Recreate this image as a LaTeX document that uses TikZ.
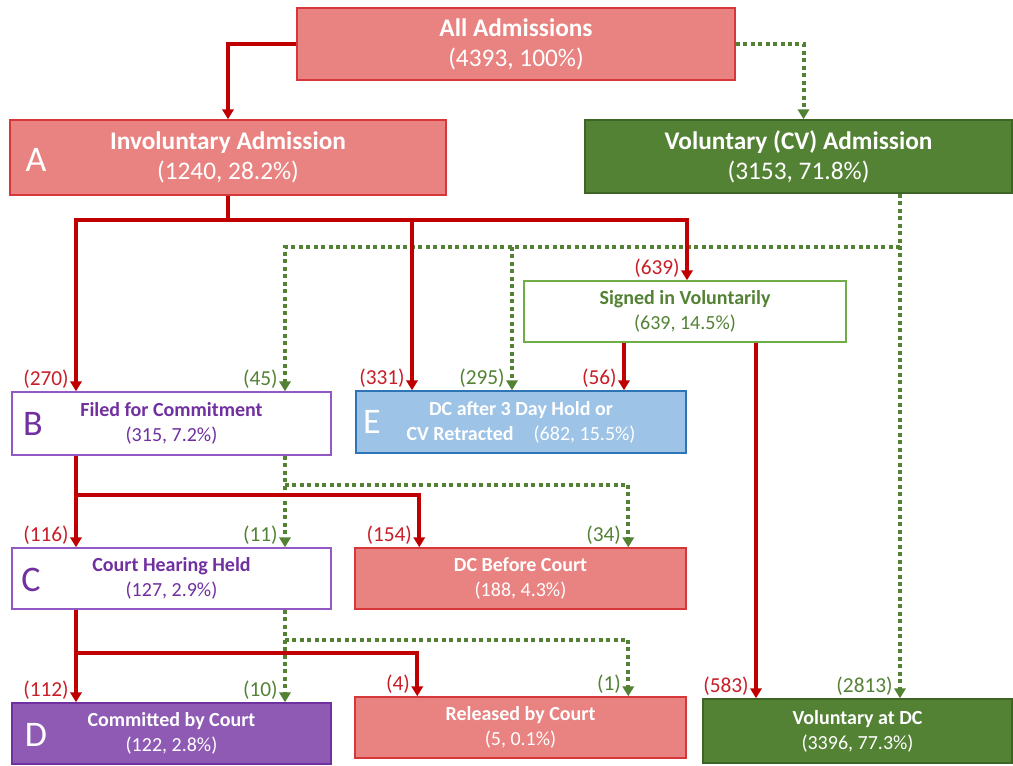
\documentclass[tikz,border=0pt]{standalone}
\usepackage{fontspec}
\setmainfont{Carlito}
\usetikzlibrary{arrows.meta,calc}

\definecolor{salfill}{RGB}{232,131,129}
\definecolor{saldraw}{RGB}{214,56,58}
\definecolor{redln}{RGB}{192,0,0}
\definecolor{redtxt}{RGB}{200,30,40}
\definecolor{grnfill}{RGB}{84,130,53}
\definecolor{grndraw}{RGB}{62,100,38}
\definecolor{grnln}{RGB}{84,130,53}
\definecolor{grnlite}{RGB}{112,173,71}
\definecolor{purtxt}{RGB}{112,48,160}
\definecolor{purdraw}{RGB}{146,88,196}
\definecolor{purfill}{RGB}{142,90,180}
\definecolor{bluefill}{RGB}{157,195,230}
\definecolor{bluedraw}{RGB}{46,117,182}

\newcommand\fntbig{\fontsize{19}{22.5}\selectfont}
\newcommand\fntsmall{\fontsize{15}{18.75}\selectfont}
\newcommand\fntlab{\fontsize{16}{16}\selectfont}
\newcommand\fntltr{\fontsize{27}{27}\selectfont}

\tikzset{
	box/.style={draw, line width=1.1pt, inner sep=0pt, align=center},
	salbox/.style={box, fill=salfill, draw=saldraw, text=white},
	grnbox/.style={box, fill=grnfill, draw=grndraw, text=white},
	redarr/.style={draw=redln, line width=3pt, -{Triangle[length=7.5pt,width=8.5pt]}},
	grnarr/.style={draw=grnln, line width=3pt, dash pattern=on 3pt off 2.6pt, -{Triangle[length=7.5pt,width=8.5pt]}},
	redlab/.style={anchor=base east, inner sep=0pt, xshift=-4pt, yshift=4.5pt, text=redtxt, font=\fntlab},
	grnlab/.style={redlab, text=grnln},
	bigltr/.style={inner sep=0pt, font=\fntltr}
}

\begin{document}
\begin{tikzpicture}[x=0.75pt,y=-0.75pt]
	\useasboundingbox (0,0) rectangle (1013,765);

	\node[salbox, minimum width=328.5pt, minimum height=54pt, font=\fntbig] (all) at (516,44) {\textbf{All Admissions}\\(4393, 100\%)};
	\node[salbox, minimum width=327pt, minimum height=56.25pt, font=\fntbig] (inv) at (228,157.5) {\textbf{Involuntary Admission}\\(1240, 28.2\%)};
	\node[grnbox, minimum width=320.25pt, minimum height=54.75pt, font=\fntbig] (vol) at (798.5,156.5) {\textbf{Voluntary (CV) Admission}\\(3153, 71.8\%)};
	\node[box, draw=grnlite, fill=white, text=grnfill, minimum width=241.5pt, minimum height=45.75pt, font=\fntsmall] (sgn) at (685,311.5) {\textbf{Signed in Voluntarily}\\(639, 14.5\%)};
	\node[box, draw=purdraw, fill=white, text=purtxt, minimum width=239.25pt, minimum height=47.25pt, font=\fntsmall] (fil) at (171.5,423.5) {\textbf{Filed for Commitment}\\(315, 7.2\%)};
	\node[box, draw=bluedraw, fill=bluefill, text=white, minimum width=247.5pt, minimum height=46.5pt, font=\fntsmall] (dch) at (521,422) {\textbf{DC after 3 Day Hold or}\\\textbf{CV Retracted}\quad(682, 15.5\%)};
	\node[box, draw=purdraw, fill=white, text=purtxt, minimum width=239.25pt, minimum height=45.75pt, font=\fntsmall] (crt) at (171.5,578.5) {\textbf{Court Hearing Held}\\(127, 2.9\%)};
	\node[salbox, minimum width=248.25pt, minimum height=45.75pt, font=\fntsmall] (dcb) at (520.5,578.5) {\textbf{DC Before Court}\\(188, 4.3\%)};
	\node[box, draw=purtxt, fill=purfill, text=white, minimum width=239.25pt, minimum height=45.75pt, font=\fntsmall] (com) at (171.5,733.5) {\textbf{Committed by Court}\\(122, 2.8\%)};
	\node[salbox, minimum width=248.25pt, minimum height=45.75pt, font=\fntsmall] (rel) at (520.5,727.5) {\textbf{Released by Court}\\(5, 0.1\%)};
	\node[grnbox, minimum width=231.75pt, minimum height=48pt, font=\fntsmall] (vdc) at (857.5,731) {\textbf{Voluntary at DC}\\(3396, 77.3\%)};

	\node[bigltr, text=white] (ltrA) at (36,160) {A};
	\node[bigltr, text=purtxt] (ltrB) at (33,424) {B};
	\node[bigltr, text=purtxt] (ltrC) at (31,580) {C};
	\node[bigltr, text=white] (ltrD) at (36,735) {D};
	\node[bigltr, text=white] (ltrE) at (372,422) {E};

	\coordinate (rL) at (76,220);
	\coordinate (rM) at (412,220);
	\coordinate (rR) at (687,220);
	\coordinate (gL) at (285,247);
	\coordinate (gM) at (512,247);
	\coordinate (gR) at (900,247);

	\draw[redarr] (all.west) -| (inv.north);
	\draw[grnarr] (all.east) -| ($(vol.north)+(5,0)$);

	\draw[grnarr] (gR|-vol.south) -- (gR|-vdc.north) node[grnlab] (n2813) {(2813)};
	\draw[grnarr] (gR) -| (gL|-fil.north) node[grnlab] (n45) {(45)};
	\draw[grnarr] (gM) -- (gM|-dch.north) node[grnlab] (n295) {(295)};

	\draw[redarr] (inv.south) |- (rL) -- (rL|-fil.north) node[redlab] (n270) {(270)};
	\draw[redarr] (inv.south|-rL) -| (rR|-sgn.north) node[redlab] (n639) {(639)};
	\draw[redarr] (rM) -- (rM|-dch.north) node[redlab] (n331) {(331)};

	\draw[redarr] ($(sgn.south)+(-61,0)$) coordinate (s56) -- (s56|-dch.north) node[redlab] (n56) {(56)};
	\draw[redarr] ($(sgn.south)+(71,0)$) coordinate (s583) -- (s583|-vdc.north) node[redlab] (n583) {(583)};

	\draw[grnarr] (gL|-fil.south) -- (gL|-crt.north) node[grnlab] (n11) {(11)};
	\draw[grnarr] ($(gL|-fil.south)+(0,29)$) -| ($(dcb.north west)+(274,0)$) node[grnlab] (n34) {(34)};
	\draw[redarr] (rL|-fil.south) -- (rL|-crt.north) node[redlab] (n116) {(116)};
	\draw[redarr] ($(rL|-fil.south)+(0,39)$) -| ($(dcb.north west)+(65,0)$) node[redlab] (n154) {(154)};

	\draw[grnarr] (gL|-crt.south) -- (gL|-com.north) node[grnlab] (n10) {(10)};
	\draw[grnarr] ($(gL|-crt.south)+(0,30)$) -| ($(rel.north west)+(274,0)$) node[grnlab] (n1) {(1)};
	\draw[redarr] (rL|-crt.south) -- (rL|-com.north) node[redlab] (n112) {(112)};
	\draw[redarr] ($(rL|-crt.south)+(0,43)$) -| ($(rel.north west)+(63,0)$) node[redlab] (n4) {(4)};
\end{tikzpicture}
\end{document}
